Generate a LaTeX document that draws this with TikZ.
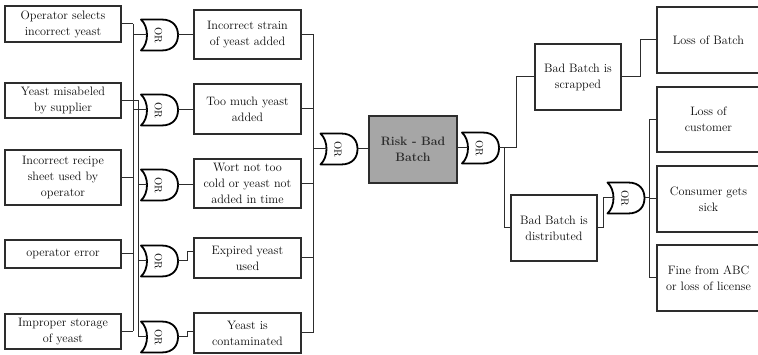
\documentclass[tikz,border=0pt]{standalone}
\usetikzlibrary{calc}
\definecolor{lc}{RGB}{45,45,45}
\definecolor{riskfill}{RGB}{166,166,166}
\definecolor{txt}{RGB}{10,10,10}
\definecolor{risktxt}{RGB}{45,45,45}
\newcommand\orgate[3]{%
  \node[gatetext] (#1) at (#2-1,#3) {OR};
  \coordinate (#1-in) at (#2-12.5,#3);
  \coordinate (#1-out) at (#2+18.5,#3);
  \draw[gateline,shift={(#2,#3)}] (-18.5,-15.5) -- (2,-15.5) .. controls (14,-15.5) and (18.5,-8) .. (18.5,0) .. controls (18.5,8) and (14,15.5) .. (2,15.5) -- (-18.5,15.5) .. controls (-10.5,8) and (-10.5,-8) .. (-18.5,-15.5) -- cycle;
}
\begin{document}
\begin{tikzpicture}[x=1pt,y=-1pt,
  box/.style={draw=lc,line width=1.2pt,fill=white,inner sep=0pt,align=center,text=txt,font=\fontsize{12.2}{16}\selectfont},
  lbox/.style={box,minimum width=116pt},
  mbox/.style={box,minimum width=107pt},
  bbox/.style={box,minimum width=86pt,minimum height=66pt},
  rbox/.style={box,minimum width=103pt},
  riskbox/.style={draw=lc,line width=2.2pt,fill=riskfill,inner sep=0pt,minimum width=88pt,minimum height=67pt,align=center,font=\bfseries\fontsize{12.2}{16}\selectfont,text=risktxt},
  gatetext/.style={rotate=-90,inner sep=0pt,font=\fontsize{10.5}{11}\selectfont,text=txt},
  gateline/.style={draw=black,line width=1.8pt,line join=round},
  conn/.style={draw=lc,line width=1pt}]
\useasboundingbox (0,0) rectangle (758,355);
% left column
\node[lbox,minimum height=36pt] (L1) at (63,24) {Operator selects\\incorrect yeast};
\node[lbox,minimum height=35pt] (L2) at (63,100.5) {Yeast misabeled\\by supplier};
\node[lbox,minimum height=55pt] (L3) at (63,177.5) {Incorrect recipe\\sheet used by\\operator};
\node[lbox,minimum height=28pt] (L4) at (63,254) {operator error};
\node[lbox,minimum height=35pt] (L5) at (63,331.5) {Improper storage\\of yeast};
% middle column
\node[mbox,minimum height=49pt] (M1) at (247.5,34.5) {Incorrect strain\\of yeast added};
\node[mbox,minimum height=50pt] (M2) at (247.5,109) {Too much yeast\\added};
\node[mbox,minimum height=49pt] (M3) at (247.5,183.5) {Wort not too\\cold or yeast not\\added in time};
\node[mbox,minimum height=40pt] (M4) at (247.5,258) {Expired yeast\\used};
\node[mbox,minimum height=40pt] (M5) at (247.5,333) {Yeast is\\contaminated};
% gates
\orgate{g1}{159.5}{35}
\orgate{g2}{159.5}{110}
\orgate{g3}{159.5}{185}
\orgate{g4}{159.5}{261}
\orgate{g5}{159.5}{337}
\orgate{g6}{339}{149}
\orgate{g7}{480.5}{148}
\orgate{g8}{626}{198}
% top event and consequences
\node[riskbox] (risk) at (413,149.5) {Risk - Bad\\Batch};
\node[bbox] (BS) at (578,77) {Bad Batch is\\scrapped};
\node[bbox] (BD) at (554,228) {Bad Batch is\\distributed};
\node[rbox,minimum height=66pt] (LB) at (708.5,40) {Loss of Batch};
\node[rbox,minimum height=65pt] (LC) at (708.5,119.5) {Loss of\\customer};
\node[rbox,minimum height=66pt] (CS) at (708.5,199) {Consumer gets\\sick};
\node[rbox,minimum height=66pt] (FA) at (708.5,278) {Fine from ABC\\or loss of license};
% bus coordinates
\coordinate (busA) at (133,0);
\coordinate (busB) at (138,0);
\coordinate (busC) at (313,0);
\coordinate (busD) at (649,0);
\coordinate (j1) at (504,0);
\coordinate (j2) at (516,0);
\coordinate (j3) at (640,0);
\coordinate (j4) at (603,0);
\coordinate (s4) at (187,252);
\coordinate (s5) at (187,332);
% left connectors
\draw[conn] (L1.east) -- (L1.east -| busA);
\draw[conn] (L2.east) -- (L2.east -| busB);
\draw[conn] (L3.east) -- (L3.east -| busA);
\draw[conn] (L4.east) -- (L4.east -| busA);
\draw[conn] (L5.east) -- (L5.east -| busA);
\draw[conn] (L1.east -| busA) -- (L5.east -| busA);
\draw[conn] (L2.east -| busB) -- (g5-in -| busB);
\draw[conn] (g1-in -| busA) -- (g1-in);
\draw[conn] (g2-in -| busA) -- (g2-in);
\draw[conn] (g3-in -| busB) -- (g3-in);
\draw[conn] (g4-in -| busB) -- (g4-in);
\draw[conn] (g5-in -| busB) -- (g5-in);
% gate outputs to middle boxes
\draw[conn] (g1-out) -- (g1-out -| M1.west);
\draw[conn] (g2-out) -- (g2-out -| M2.west);
\draw[conn] (g3-out) -- (g3-out -| M3.west);
\draw[conn] (g4-out) -| (s4) -- (s4 -| M4.west);
\draw[conn] (g5-out) -| (s5) -- (s5 -| M5.west);
% middle bus
\draw[conn] (M1.east) -- (M1.east -| busC);
\draw[conn] (M2.east) -- (M2.east -| busC);
\draw[conn] (M3.east) -- (M3.east -| busC);
\draw[conn] (M4.east) -- (M4.east -| busC);
\draw[conn] (M5.east) -- (M5.east -| busC);
\draw[conn] (M1.east -| busC) -- (M5.east -| busC);
\draw[conn] (g6-in -| busC) -- (g6-in);
\draw[conn] (g6-out) -- (g6-out -| risk.west);
\draw[conn] (risk.east |- g7-in) -- (g7-in);
% right side
\draw[conn] (g7-out) -- (g7-out -| j2) |- (BS.west);
\draw[conn] (g7-out -| j1) |- (BD.west);
\draw[conn] (BS.east) -- (BS.east -| j3) |- (LB.west);
\draw[conn] (BD.east) -- (BD.east -| j4) |- (g8-in);
\draw[conn] (g8-out) -- (g8-out -| busD);
\draw[conn] (LC.west -| busD) -- (FA.west -| busD);
\draw[conn] (LC.west -| busD) -- (LC.west);
\draw[conn] (CS.west -| busD) -- (CS.west);
\draw[conn] (FA.west -| busD) -- (FA.west);
\end{tikzpicture}
\end{document}
